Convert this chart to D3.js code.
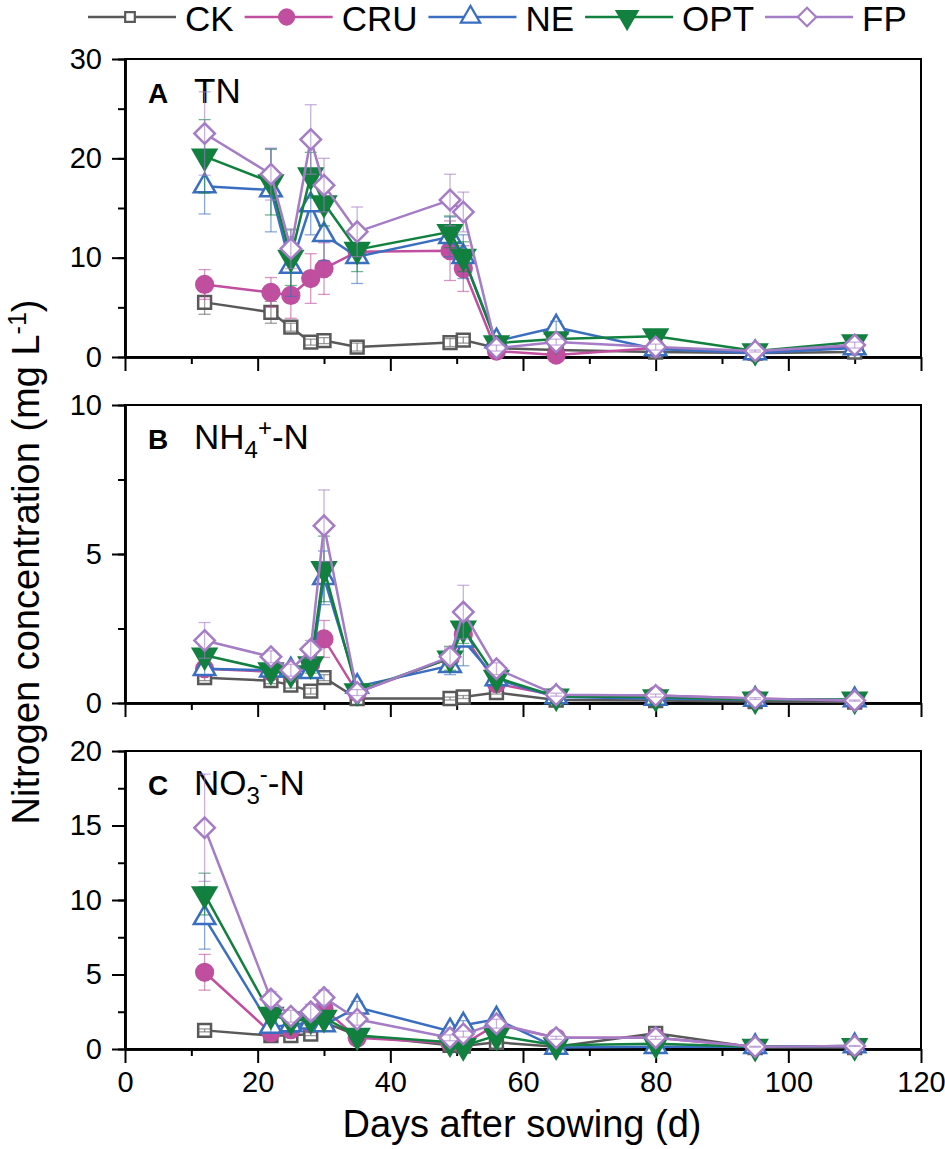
<!DOCTYPE html>
<html>
<head>
<meta charset="utf-8">
<script src="https://cdn.jsdelivr.net/npm/d3@7"></script>
<style>
  body { margin: 0; background: #fff; }
  svg { display: block; }
  text { font-family: "Liberation Sans", Arial, sans-serif; fill: #000; }
</style>
</head>
<body>
<div id="chart"></div>
<script>
// sampling days (x axis)
var days = [12, 22, 25, 28, 30, 35, 49, 51, 56, 65, 80, 95, 110];
var treatments = ['CK', 'CRU', 'NE', 'OPT', 'FP'];
var xTicks = [0, 20, 40, 60, 80, 100, 120];

// A: TN (mg/L)
var tnCK  = [5.5, 4.5, 3.0, 1.5, 1.65, 1.0, 1.45, 1.7, 0.9, 0.7, 0.5, 0.4, 0.5];
var tnCRU = [7.3, 6.5, 6.2, 7.9, 8.9, 10.6, 10.7, 8.9, 0.6, 0.2, 0.9, 0.4, 1.1];
var tnNE  = [17.2, 16.8, 9.1, 15.3, 12.3, 10.1, 12.1, 10.1, 1.6, 3.0, 0.8, 0.4, 0.9];
var tnOPT = [20.2, 17.6, 10.0, 18.3, 15.5, 10.8, 12.6, 10.1, 1.4, 1.8, 2.1, 0.6, 1.5];
var tnFP  = [22.5, 18.4, 10.9, 21.9, 17.3, 12.6, 15.8, 14.6, 0.9, 1.5, 1.0, 0.6, 1.2];
var tnCKErr  = [1.2, 1.1, 0.4, 0.3, 0.3, 0.4, 0.4, 0.3, 0.2, 0.2, 0.2, 0.1, 0.2];
var tnCRUErr = [1.5, 1.5, 2.3, 2.5, 2.6, 0.6, 3.0, 2.3, 0.2, 0.2, 0.2, 0.1, 0.2];
var tnNEErr  = [2.8, 4.2, 3.0, 3.0, 2.6, 2.7, 2.0, 2.2, 0.5, 0.6, 0.3, 0.1, 0.3];
var tnOPTErr = [3.7, 3.3, 2.8, 2.3, 2.3, 2.2, 1.6, 1.5, 0.4, 0.3, 0.3, 0.1, 0.3];
var tnFPErr  = [4.2, 2.6, 2.0, 3.5, 2.7, 2.5, 2.6, 2.0, 0.3, 0.3, 0.3, 0.1, 0.3];

// B: NH4+-N (mg/L)
var nhCK  = [0.85, 0.75, 0.6, 0.4, 0.85, 0.15, 0.15, 0.2, 0.35, 0.1, 0.08, 0.05, 0.03];
var nhCRU = [1.15, 1.05, 1.0, 1.3, 2.15, 0.35, 1.5, 2.3, 0.65, 0.25, 0.25, 0.15, 0.08];
var nhNE  = [1.15, 1.1, 1.1, 1.05, 4.2, 0.55, 1.25, 2.1, 0.8, 0.2, 0.15, 0.12, 0.1];
var nhOPT = [1.6, 1.1, 1.0, 1.3, 4.5, 0.4, 1.5, 2.5, 0.85, 0.22, 0.2, 0.12, 0.12];
var nhFP  = [2.1, 1.55, 1.1, 1.8, 5.95, 0.35, 1.55, 3.05, 1.15, 0.28, 0.25, 0.15, 0.08];
var nhCKErr  = [0.1, 0.1, 0.1, 0.1, 0.1, 0.05, 0.05, 0.05, 0.05, 0.02, 0.02, 0.02, 0.02];
var nhCRUErr = [0.2, 0.2, 0.2, 0.3, 0.62, 0.1, 0.3, 0.4, 0.1, 0.05, 0.05, 0.03, 0.02];
var nhNEErr  = [0.2, 0.2, 0.2, 0.2, 0.9, 0.1, 0.3, 0.85, 0.15, 0.05, 0.05, 0.03, 0.02];
var nhOPTErr = [0.3, 0.2, 0.2, 0.3, 1.1, 0.1, 0.4, 0.5, 0.15, 0.05, 0.05, 0.03, 0.02];
var nhFPErr  = [0.6, 0.2, 0.2, 0.3, 1.2, 0.1, 0.3, 0.9, 0.2, 0.05, 0.05, 0.03, 0.02];

// C: NO3--N (mg/L)
var noCK  = [1.25, 0.9, 0.9, 1.0, 1.8, 0.9, 0.25, 0.2, 0.45, 0.15, 1.05, 0.1, 0.1];
var noCRU = [5.15, 1.1, 1.3, 1.7, 2.7, 0.75, 0.4, 0.3, 1.65, 0.75, 0.75, 0.15, 0.15];
var noNE  = [8.8, 1.5, 1.6, 1.8, 1.6, 2.8, 1.2, 1.6, 2.0, 0.1, 0.15, 0.15, 0.2];
var noOPT = [10.4, 2.3, 1.9, 2.0, 2.1, 0.9, 0.45, 0.2, 0.9, 0.25, 0.35, 0.15, 0.2];
var noFP  = [14.85, 3.35, 2.2, 2.5, 3.45, 2.0, 0.75, 1.0, 1.7, 0.75, 0.75, 0.15, 0.2];
var noCKErr  = [0.1, 0.1, 0.1, 0.1, 0.2, 0.1, 0.05, 0.05, 0.1, 0.05, 0.2, 0.02, 0.02];
var noCRUErr = [1.2, 0.3, 0.3, 0.5, 0.5, 0.2, 0.1, 0.1, 0.3, 0.1, 0.1, 0.03, 0.03];
var noNEErr  = [2.1, 0.4, 0.5, 0.6, 0.4, 0.4, 0.2, 0.3, 0.3, 0.05, 0.05, 0.03, 0.03];
var noOPTErr = [1.4, 0.5, 0.4, 0.4, 0.4, 0.2, 0.1, 0.1, 0.2, 0.05, 0.05, 0.03, 0.03];
var noFPErr  = [3.6, 0.5, 0.4, 0.5, 0.5, 0.4, 0.2, 0.2, 0.3, 0.1, 0.1, 0.03, 0.03];

(function() {
  var W = 945, H = 1149,
      left = 125, right = 921,
      panelTops = [59, 405, 751],
      panelH = 298;

  var styles = {
    CK:  { color: '#595959', shape: 'square', size: 165 },
    CRU: { color: '#c04f9f', shape: 'circle', size: 220 },
    NE:  { color: '#3a6ec0', shape: 'triangle', size: 200 },
    OPT: { color: '#12803f', shape: 'triangleDown', size: 230 },
    FP:  { color: '#a57cc6', shape: 'diamond', size: 210 }
  };

  var panels = [
    { letter: 'A', title: [['TN', 0]], domain: [0, 30], major: 10, minor: 5,
      values: [tnCK, tnCRU, tnNE, tnOPT, tnFP],
      errors: [tnCKErr, tnCRUErr, tnNEErr, tnOPTErr, tnFPErr] },
    { letter: 'B', title: [['NH', 0], ['4', 1], ['+', -1], ['-N', 0]], domain: [0, 10], major: 5, minor: 2.5,
      values: [nhCK, nhCRU, nhNE, nhOPT, nhFP],
      errors: [nhCKErr, nhCRUErr, nhNEErr, nhOPTErr, nhFPErr] },
    { letter: 'C', title: [['NO', 0], ['3', 1], ['-', -1], ['-N', 0]], domain: [0, 20], major: 5, minor: 2.5,
      values: [noCK, noCRU, noNE, noOPT, noFP],
      errors: [noCKErr, noCRUErr, noNEErr, noOPTErr, noFPErr] }
  ];

  var svg = d3.select('#chart').append('svg')
      .attr('width', W)
      .attr('height', H);

  var x = d3.scaleLinear().domain([0, 120]).range([left, right]);

  // marker path for a style at a given scale (1 = plot size)
  function marker(st, k) {
    var type = st.shape === 'circle' ? d3.symbolCircle :
        (st.shape === 'square' || st.shape === 'diamond') ? d3.symbolSquare : d3.symbolTriangle;
    return d3.symbol(type, st.size * k * k)();
  }
  function markerRotate(shape) {
    if (shape === 'diamond') return 45;
    if (shape === 'triangleDown') return 180;
    return 0;
  }
  function markerFill(st) {
    return st.shape === 'circle' || st.shape === 'triangleDown' ? st.color : '#fff';
  }

  panels.forEach(function(p, pi) {
    var top = panelTops[pi], bottom = top + panelH;
    var y = d3.scaleLinear().domain(p.domain).range([bottom, top]);
    var g = svg.append('g');

    // frame
    g.append('rect')
        .attr('x', left).attr('y', top)
        .attr('width', right - left).attr('height', panelH)
        .attr('fill', 'none').attr('stroke', '#000').attr('stroke-width', 2);

    // y axis: minor then major
    var yMinor = d3.axisLeft(y)
        .tickValues(d3.range(p.domain[0], p.domain[1] + 0.01, p.minor))
        .tickSize(7).tickSizeOuter(0).tickFormat('');
    var yMajor = d3.axisLeft(y)
        .tickValues(d3.range(p.domain[0], p.domain[1] + 0.01, p.major))
        .tickSize(13).tickSizeOuter(0).tickPadding(10);
    [yMinor, yMajor].forEach(function(ax) {
      var a = g.append('g').attr('transform', 'translate(' + left + ',0)').call(ax);
      a.select('.domain').attr('stroke-width', 2.5);
      a.selectAll('.tick line').attr('stroke-width', 2);
      a.selectAll('.tick text')
          .style('font-family', '"Liberation Sans", Arial, sans-serif')
          .style('font-size', '29px').attr('fill', '#000');
    });

    // x axis
    var xMinor = d3.axisBottom(x).tickValues(d3.range(10, 120, 20))
        .tickSize(7).tickSizeOuter(0).tickFormat('');
    var xMajor = d3.axisBottom(x).tickValues(xTicks)
        .tickSize(14).tickSizeOuter(0).tickPadding(8);
    if (pi < panels.length - 1) xMajor.tickFormat('');
    [xMinor, xMajor].forEach(function(ax) {
      var a = g.append('g').attr('transform', 'translate(0,' + bottom + ')').call(ax);
      a.select('.domain').attr('stroke-width', 2.5);
      a.selectAll('.tick line').attr('stroke-width', 2);
      a.selectAll('.tick text')
          .style('font-family', '"Liberation Sans", Arial, sans-serif')
          .style('font-size', '29px').attr('fill', '#000');
    });

    // panel label
    g.append('text')
        .attr('x', 148).attr('y', top + 44)
        .style('font-size', '28px').style('font-weight', 'bold')
        .text(p.letter);
    var t = g.append('text')
        .attr('x', 194).attr('y', top + 44)
        .style('font-size', '35px');
    var prev = 0;
    p.title.forEach(function(part) {
      var shift = part[1] === 1 ? 9 : part[1] === -1 ? -13 : 0;
      t.append('tspan')
          .attr('dy', shift - prev)
          .style('font-size', part[1] === 0 ? '35px' : '24px')
          .text(part[0]);
      prev = shift;
    });

    var line = d3.line()
        .x(function(d) { return x(d[0]); })
        .y(function(d) { return y(d[1]); });

    treatments.forEach(function(name, si) {
      var st = styles[name];
      var vals = p.values[si], errs = p.errors[si];
      var pts = days.map(function(d, i) { return [d, vals[i], errs[i]]; });
      var sg = g.append('g');

      sg.append('path')
          .datum(pts)
          .attr('d', line)
          .attr('fill', 'none')
          .attr('stroke', st.color)
          .attr('stroke-width', 2.5);

      sg.selectAll('path.mk').data(pts).enter().append('path')
          .attr('class', 'mk')
          .attr('d', marker(st, 1))
          .attr('transform', function(d) {
            return 'translate(' + x(d[0]) + ',' + y(d[1]) + ') rotate(' + markerRotate(st.shape) + ')';
          })
          .attr('fill', markerFill(st))
          .attr('stroke', st.color)
          .attr('stroke-width', 2.5);

      // error bars
      var eb = sg.selectAll('g.eb').data(pts).enter().append('g')
          .attr('class', 'eb')
          .attr('stroke', st.color)
          .attr('stroke-opacity', 0.6)
          .attr('stroke-width', 1.3);
      eb.append('line')
          .attr('x1', function(d) { return x(d[0]); })
          .attr('x2', function(d) { return x(d[0]); })
          .attr('y1', function(d) { return y(Math.max(0, d[1] - d[2])); })
          .attr('y2', function(d) { return y(d[1] + d[2]); });
      eb.append('line')
          .attr('x1', function(d) { return x(d[0]) - 6; })
          .attr('x2', function(d) { return x(d[0]) + 6; })
          .attr('y1', function(d) { return y(d[1] + d[2]); })
          .attr('y2', function(d) { return y(d[1] + d[2]); });
      eb.append('line')
          .attr('x1', function(d) { return x(d[0]) - 6; })
          .attr('x2', function(d) { return x(d[0]) + 6; })
          .attr('y1', function(d) { return y(Math.max(0, d[1] - d[2])); })
          .attr('y2', function(d) { return y(Math.max(0, d[1] - d[2])); });
    });
  });

  // axis titles
  svg.append('text')
      .attr('x', (left + right) / 2 - 1).attr('y', 1137)
      .attr('text-anchor', 'middle')
      .style('font-size', '38px')
      .text('Days after sowing (d)');

  var yt = svg.append('text')
      .attr('transform', 'translate(39,562) rotate(-90)')
      .attr('text-anchor', 'middle')
      .style('font-size', '38px');
  yt.append('tspan').text('Nitrogen concentration (mg L');
  yt.append('tspan').attr('dy', -13).style('font-size', '25px').text('-1');
  yt.append('tspan').attr('dy', 13).text(')');

  // legend
  var lx = 88, ly = 17;
  treatments.forEach(function(name) {
    var st = styles[name];
    var lg = svg.append('g');
    lg.append('line')
        .attr('x1', lx).attr('x2', lx + 88)
        .attr('y1', ly).attr('y2', ly)
        .attr('stroke', st.color).attr('stroke-width', 2.5);
    lg.append('path')
        .attr('d', marker(st, st.shape === 'square' ? 0.75 : 0.9))
        .attr('transform', 'translate(' + (lx + 42) + ',' + ly + ') rotate(' + markerRotate(st.shape) + ')')
        .attr('fill', markerFill(st))
        .attr('stroke', st.color).attr('stroke-width', 2.2);
    var txt = lg.append('text')
        .attr('x', lx + 97).attr('y', 31)
        .style('font-size', '35px')
        .text(name);
    lx = lx + 97 + txt.node().getComputedTextLength() + 11;
  });
})();
</script>
</body>
</html>
